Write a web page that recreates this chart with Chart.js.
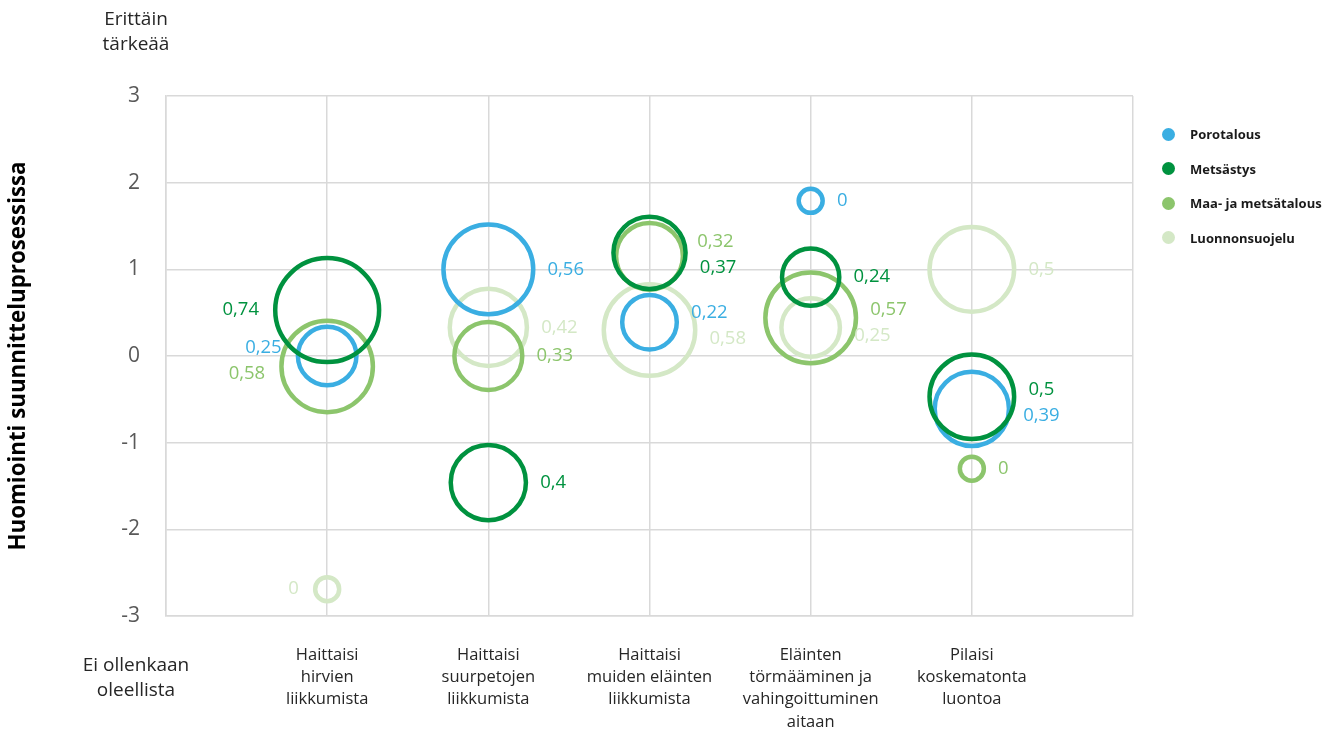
<!DOCTYPE html>
<html>
<head>
<meta charset="utf-8">
<script src="https://cdn.jsdelivr.net/npm/chart.js@4.4.1/dist/chart.umd.min.js"></script>
<style>
    html, body { margin: 0; padding: 0; background: #fff; }
    #wrap { position: relative; width: 1337px; height: 731px; }
    #legend { position: absolute; left: 1162px; top: 117px; font: bold 13px 'Open Sans', sans-serif; color: #1a1a1a; }
    #legend p { margin: 0; height: 34.5px; display: flex; align-items: center; }
    #legend span.dot { width: 13px; height: 13px; border-radius: 50%; margin-right: 15px; display: inline-block; }
</style>
</head>
<body>
<div id="wrap">
    <canvas id="bubbleChart" width="1337" height="731"></canvas>
    <div id="legend"></div>
</div>
<script>
// Categories (x axis) and series
const categories = [
    ["Haittaisi", "hirvien", "liikkumista"],
    ["Haittaisi", "suurpetojen", "liikkumista"],
    ["Haittaisi", "muiden eläinten", "liikkumista"],
    ["Eläinten", "törmääminen ja", "vahingoittuminen", "aitaan"],
    ["Pilaisi", "koskematonta", "luontoa"]
];
const seriesNames = ["Porotalous", "Metsästys", "Maa- ja metsätalous", "Luonnonsuojelu"];
const seriesColors = ['#3aaee2', '#00923f', '#8cc56c', '#d4e8c6'];

// y = importance in planning, size = bubble label value
const poroY = [0, 1.0, 0.39, 1.79, -0.61];
const poroSize = [0.25, 0.56, 0.22, 0, 0.39];
const metsY = [0.53, -1.46, 1.19, 0.91, -0.47];
const metsSize = [0.74, 0.4, 0.37, 0.24, 0.5];
const maaY = [-0.12, 0, 1.15, 0.44, -1.3];
const maaSize = [0.58, 0.33, 0.32, 0.57, 0];
const luontoY = [-2.69, 0.33, 0.3, 0.33, 1.0];
const luontoSize = [0, 0.42, 0.58, 0.25, 0.5];

const yTicks = [-3, -2, -1, 0, 1, 2, 3];

const allY = [poroY, metsY, maaY, luontoY];
const allSize = [poroSize, metsSize, maaSize, luontoSize];
// drawing order: Metsästys on top, Luonnonsuojelu at the back
const drawOrder = [1, 0, 2, 3];

const FONT = "'Open Sans', sans-serif";
const BORDER = 4.5;

const datasets = seriesNames.map((name, s) => ({
    label: name,
    data: allY[s].map((y, i) => ({ x: i + 1, y: y, v: allSize[s][i] })),
    backgroundColor: 'rgba(0,0,0,0)',
    borderColor: seriesColors[s],
    borderWidth: BORDER,
    order: drawOrder[s],
    radius: (c) => Math.max(12, 63 * Math.sqrt(c.raw.v) - BORDER / 2)
}));

// value labels next to bubbles, nudged apart when they collide
const valueLabels = {
    id: 'valueLabels',
    afterDatasetsDraw(chart) {
        const { ctx } = chart;
        const items = [];
        chart.data.datasets.forEach((ds, di) => {
            const meta = chart.getDatasetMeta(di);
            meta.data.forEach((pt, i) => {
                const r = pt.options.radius + BORDER / 2;
                const left = i === 0;
                items.push({
                    cat: i, left, series: di,
                    x: left ? pt.x - r - 14 : pt.x + r + 12,
                    y: pt.y,
                    text: String(ds.data[i].v).replace('.', ','),
                    color: ds.borderColor
                });
            });
        });
        const gap = 26;
        for (let c = 0; c < categories.length; c++) {
            // near-equal centres: later series label goes on top
            const col = items.filter(it => it.cat === c)
                .sort((a, b) => Math.abs(a.y - b.y) < 6 ? b.series - a.series : a.y - b.y);
            for (let pass = 0; pass < 20; pass++) {
                for (let k = 1; k < col.length; k++) {
                    const d = col[k].y - col[k - 1].y;
                    if (d < gap) {
                        const push = (gap - d) / 2;
                        col[k].y += push;
                        col[k - 1].y -= push;
                    }
                }
            }
        }
        ctx.save();
        ctx.font = '18.5px ' + FONT;
        ctx.textBaseline = 'middle';
        items.forEach(it => {
            ctx.fillStyle = it.color;
            ctx.textAlign = it.left ? 'right' : 'left';
            ctx.fillText(it.text, it.x, it.y);
        });
        ctx.restore();
    }
};

// end notes of the y scale
const scaleNotes = {
    id: 'scaleNotes',
    afterDraw(chart) {
        const { ctx } = chart;
        ctx.save();
        ctx.font = '19px ' + FONT;
        ctx.fillStyle = '#262626';
        ctx.textAlign = 'center';
        ctx.textBaseline = 'middle';
        ctx.fillText('Erittäin', 136, 20);
        ctx.fillText('tärkeää', 136, 45);
        ctx.fillText('Ei ollenkaan', 136, 666);
        ctx.fillText('oleellista', 136, 691);
        ctx.restore();
    }
};

const ctx = document.getElementById('bubbleChart').getContext('2d');
new Chart(ctx, {
    type: 'bubble',
    data: { datasets },
    options: {
        responsive: false,
        animation: false,
        layout: { padding: { top: 96, right: 204, bottom: 0, left: 0 } },
        scales: {
            x: {
                type: 'linear',
                min: 0, max: 6,
                afterFit(scale) { scale.height = 115; },
                afterBuildTicks(scale) { scale.ticks = [0, 1, 2, 3, 4, 5, 6].map(v => ({ value: v })); },
                grid: { color: '#d9d9d9', lineWidth: 1.5, drawTicks: false },
                border: { color: '#d9d9d9', width: 1.5 },
                ticks: {
                    padding: 28,
                    maxRotation: 0,
                    autoSkip: false,
                    color: '#262626',
                    font: { family: FONT, size: 16.5, lineHeight: 1.35 },
                    callback: (v) => categories[v - 1] || ''
                }
            },
            y: {
                min: -3, max: 3,
                afterFit(scale) { scale.width = 166; },
                afterBuildTicks(scale) { scale.ticks = yTicks.map(v => ({ value: v })); },
                grid: { color: '#d9d9d9', lineWidth: 1.5, drawTicks: false },
                border: { color: '#d9d9d9', width: 1.5 },
                ticks: {
                    padding: 26,
                    color: '#595959',
                    font: { family: FONT, size: 21 }
                },
                title: {
                    display: true,
                    text: 'Huomiointi suunnitteluprosessissa',
                    color: '#000',
                    font: { family: FONT, size: 22.3, weight: 'bold' },
                    padding: { top: 5, bottom: 0 }
                }
            }
        },
        plugins: {
            legend: { display: false },
            tooltip: { enabled: false }
        }
    },
    plugins: [valueLabels, scaleNotes]
});

// Custom legend
document.getElementById('legend').innerHTML = seriesNames.map((name, i) => `
  <p><span class="dot" style="background:${seriesColors[i]}"></span>${name}</p>
`).join('');
</script>
</body>
</html>
